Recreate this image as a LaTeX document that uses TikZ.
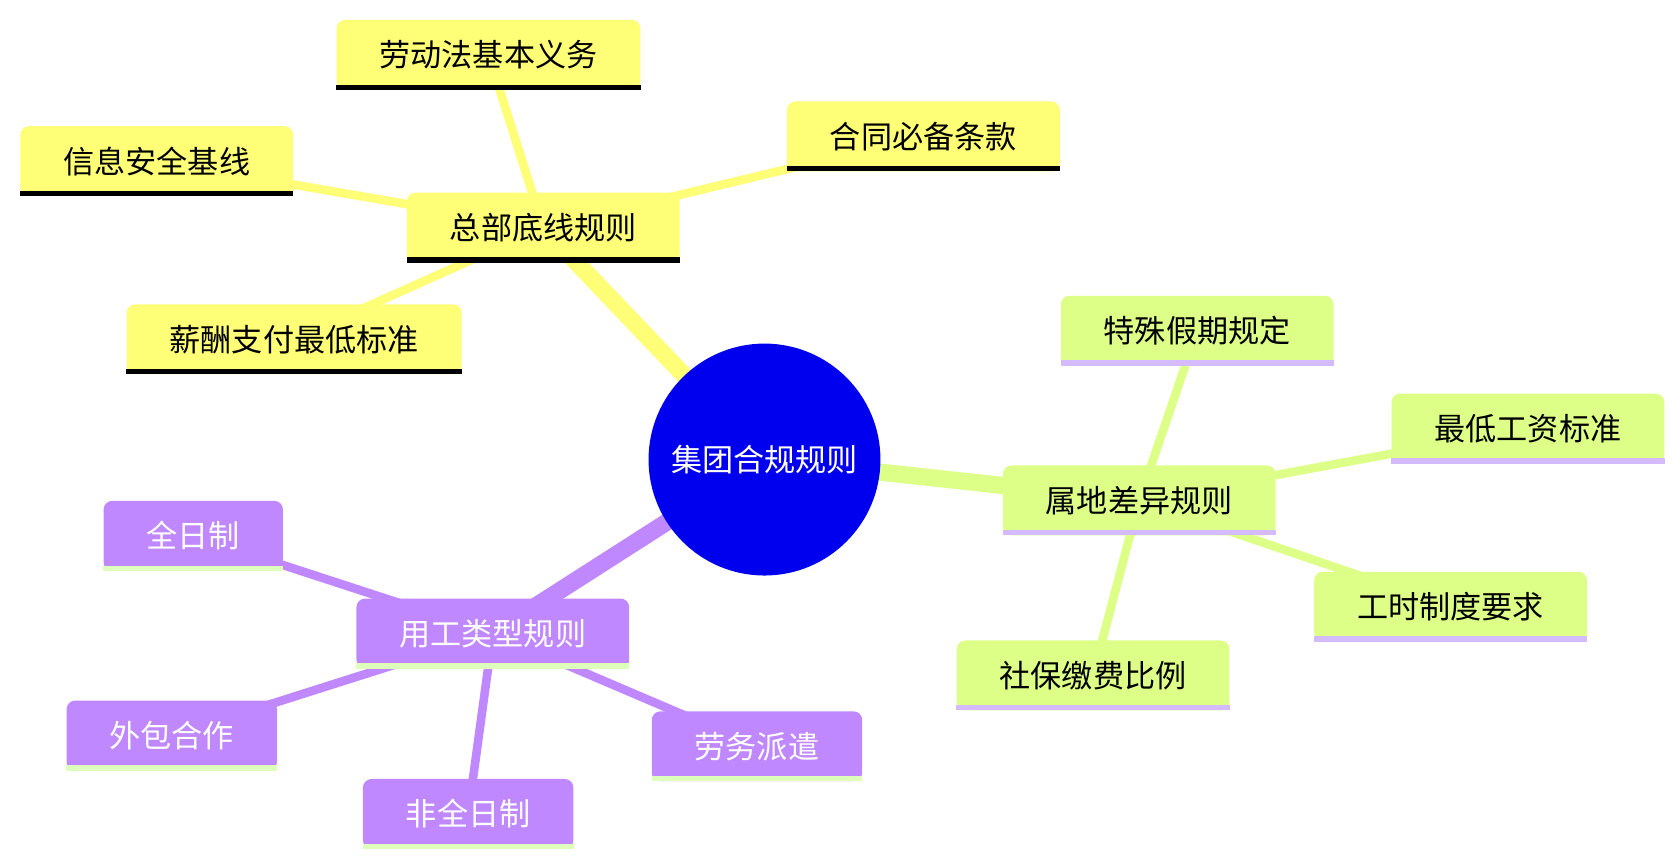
\documentclass[tikz,border=0pt]{standalone}
\usepackage{fontspec}
\setmainfont{Noto Sans CJK SC}
\usetikzlibrary{backgrounds}
\definecolor{yfill}{HTML}{FFFF77}
\definecolor{ybar}{HTML}{AAAAFF}
\definecolor{gfill}{HTML}{DDFF88}
\definecolor{gbar}{HTML}{D4BBFF}
\definecolor{pfill}{HTML}{C088FF}
\definecolor{pbar}{HTML}{DDFFBB}
\definecolor{cblue}{HTML}{0000EE}
\tikzset{
 box/.style={rounded corners=8pt, inner xsep=40pt, minimum height=65pt, font=\fontsize{29}{34}\selectfont},
 ybox/.style={box, fill=yfill, text=black},
 gbox/.style={box, fill=gfill, text=black},
 pbox/.style={box, fill=pfill, text=white},
}
\begin{document}
\begin{tikzpicture}[x=1pt,y=-1pt]
\useasboundingbox (0,0) rectangle (1560,803);
\node[circle, fill=cblue, minimum size=216pt, text=white, font=\fontsize{29}{34}\selectfont] (c) at (712,428) {集团合规规则};
\node[ybox] (hq) at (506,212) {总部底线规则};
\node[ybox] (y1) at (455,51) {劳动法基本义务};
\node[ybox] (y2) at (860,127) {合同必备条款};
\node[ybox] (y3) at (146,150) {信息安全基线};
\node[ybox] (y4) at (274,316) {薪酬支付最低标准};
\node[gbox] (loc) at (1061,466) {属地差异规则};
\node[gbox] (g1) at (1115,308) {特殊假期规定};
\node[gbox] (g2) at (1423,399) {最低工资标准};
\node[gbox] (g3) at (1351,565) {工时制度要求};
\node[gbox] (g4) at (1018,629) {社保缴费比例};
\node[pbox] (emp) at (459,590) {用工类型规则};
\node[pbox] (p1) at (180,499) {全日制};
\node[pbox] (p2) at (160,685) {外包合作};
\node[pbox] (p3) at (436,758) {非全日制};
\node[pbox] (p4) at (705,695) {劳务派遣};
\foreach \n in {hq,y1,y2,y3,y4}{\fill[ybar] (\n.south west) rectangle ([yshift=5pt]\n.south east);}
\foreach \n in {loc,g1,g2,g3,g4}{\fill[gbar] (\n.south west) rectangle ([yshift=5pt]\n.south east);}
\foreach \n in {emp,p1,p2,p3,p4}{\fill[pbar] (\n.south west) rectangle ([yshift=5pt]\n.south east);}
\begin{scope}[on background layer]
\draw[yfill, line width=16pt] (c.center) -- (hq.center);
\draw[gfill, line width=16pt] (c.center) -- (loc.center);
\draw[pfill, line width=16pt] (c.center) -- (emp.center);
\foreach \n in {y1,y2,y3,y4}{\draw[yfill, line width=8pt] (hq.center) -- (\n.center);}
\foreach \n in {g1,g2,g3,g4}{\draw[gfill, line width=8pt] (loc.center) -- (\n.center);}
\foreach \n in {p1,p2,p3,p4}{\draw[pfill, line width=8pt] (emp.center) -- (\n.center);}
\end{scope}
\end{tikzpicture}
\end{document}
